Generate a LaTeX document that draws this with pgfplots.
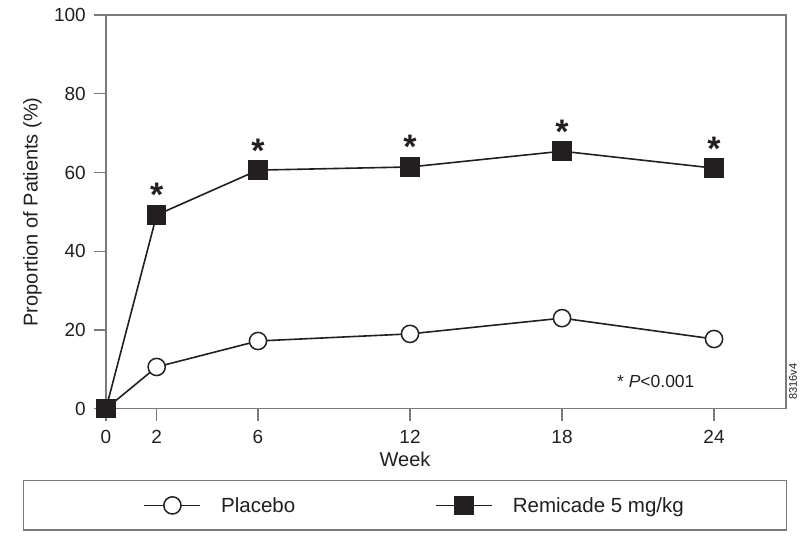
\documentclass[border=0pt]{standalone}
\usepackage{pgfplots}
\pgfplotsset{compat=1.18}
\usepackage{fontspec}
\setmainfont{Liberation Sans}
\definecolor{ink}{HTML}{231F20}
\definecolor{axgray}{HTML}{7A7A7A}
\begin{document}
\begin{tikzpicture}
\begin{axis}[
  scale only axis, width=680pt, height=393.7pt,
  xmin=0, xmax=26.84, ymin=0, ymax=100,
  clip=false,
  axis line style={axgray, line width=1.3pt},
  xtick={0,2,6,12,18,24}, ytick={0,20,40,60,80,100},
  xtick pos=bottom, ytick pos=left,
  tick align=outside, major tick length=12pt,
  tick style={axgray, line width=1.3pt},
  /pgf/number format/assume math mode=true,
  ticklabel style={font=\fontsize{19}{22}\selectfont, text=ink},
  xticklabel style={inner sep=0pt, yshift=-9pt},
  yticklabel style={inner sep=0pt, xshift=-8pt},
  xlabel={Week},
  ylabel={Proportion of Patients (\%)},
  label style={font=\fontsize{20}{24}\selectfont, text=ink},
  xlabel style={at={(axis description cs:0.4397,-0.1473)}, anchor=base},
  ylabel style={at={(axis description cs:-0.1007,0.5)}, anchor=base, rotate=0},
  legend columns=2,
  legend style={at={(axis description cs:-0.1221,-0.1811)}, anchor=north west,
    draw=axgray, line width=1.3pt, inner xsep=120pt, inner ysep=15.5pt,
    font=\fontsize{20.5}{24}\selectfont, text=ink,
    nodes={inner sep=0pt, text height=15pt, text depth=0pt},
    /tikz/every odd column/.append style={column sep=20pt},
    /tikz/every even column/.append style={column sep=140pt}},
  legend cell align=left,
  legend image code/.code={\draw[mark repeat=2,mark phase=2,#1] plot coordinates {(0pt,0pt) (28pt,0pt) (56pt,0pt)};},
]
\addplot[ink, line width=1.6pt, mark=*, mark size=8.6pt, mark options={fill=white, draw=ink, line width=1.5pt, solid}]
  coordinates {(0,0) (2,10.6) (6,17.2) (12,19.0) (18,23.0) (24,17.7)};
\addlegendentry{Placebo}
\addplot[ink, line width=1.6pt, mark=square*, mark size=9.25pt, mark options={fill=ink, draw=ink, line width=1pt, solid}]
  coordinates {(0,0) (2,49.2) (6,60.6) (12,61.4) (18,65.4) (24,61.1)};
\addlegendentry{Remicade 5 mg/kg\hspace*{-17pt}}
\addplot[draw=none, mark=none, forget plot, nodes near coords={\bfseries *},
  every node near coord/.append style={anchor=base, inner sep=0pt, yshift=8pt, font=\fontsize{34}{34}\selectfont, text=ink}]
  coordinates {(2,49.2) (6,60.6) (12,61.4) (18,65.4) (24,61.1)};
\node[font=\fontsize{17.5}{20}\selectfont, text=ink] at (axis cs:21.7,6.8) {* \textit{P}<0.001};
\node[rotate=90, font=\fontsize{11}{12}\selectfont, text=ink] at (axis description cs:1.0103,0.069) {8316v4};
\coordinate (ll) at (rel axis cs:0,0);
\end{axis}
\pgfresetboundingbox
\path ([shift={(-106pt,-131.3pt)}]ll) rectangle ([shift={(701pt,408.7pt)}]ll);
\end{tikzpicture}
\end{document}
